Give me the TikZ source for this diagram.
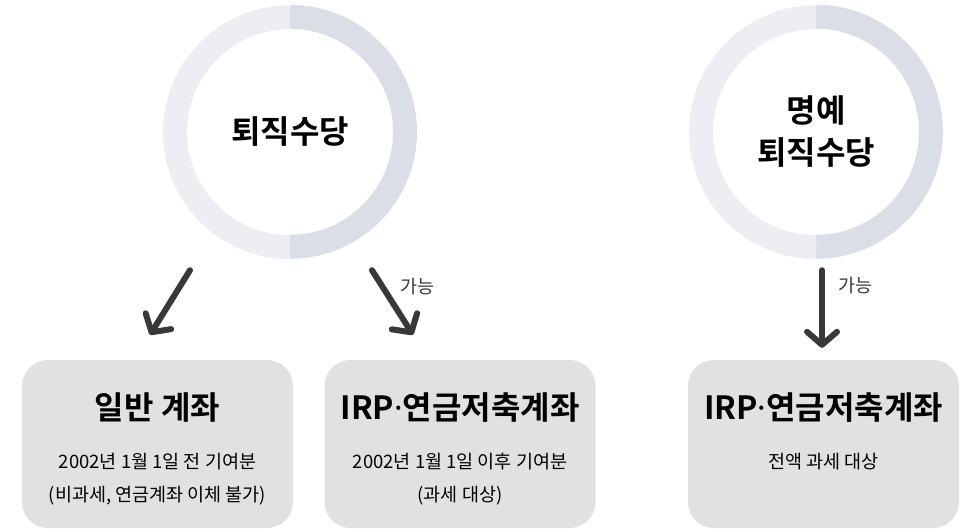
\documentclass[tikz,border=0pt]{standalone}
\usepackage{fontspec}
\setmainfont{Noto Sans CJK KR}[BoldFont={Noto Sans CJK KR Bold}]
\newfontfamily\dotfont{Noto Sans}
\usetikzlibrary{arrows.meta,positioning}
\definecolor{ringleft}{HTML}{ECEEF3}
\definecolor{ringright}{HTML}{DADEE7}
\definecolor{boxgray}{HTML}{E0E1E1}
\definecolor{arrowdark}{HTML}{3B3838}
\newcommand{\mdot}{{\dotfont\bfseries ·}}

\begin{document}
\begin{tikzpicture}[x=1pt,y=1pt,
  ring/.style={circle,minimum size=230pt,inner sep=0pt,align=center,font=\bfseries\fontsize{32}{42}\selectfont},
  account/.style={rectangle,rounded corners=26pt,fill=boxgray,minimum width=271pt,minimum height=168pt},
  title/.style={font=\bfseries\fontsize{32}{34}\selectfont,inner sep=0pt},
  note/.style={font=\fontsize{18.5}{33}\selectfont,align=center,inner sep=0pt},
  flow/.style={arrowdark,line width=6pt,line cap=round,-{Straight Barb[length=13pt,width=30pt,line cap=round,line join=round]}},
  tag/.style={font=\fontsize{18.5}{20}\selectfont,inner sep=0pt}]
\useasboundingbox (0,0) rectangle (967,-531);

% circles
\node[ring] (c1) at (290,-132) {퇴직수당};
\node[ring] (c2) at (816,-132) {명예\\퇴직수당};
\foreach \c in {c1,c2} {
  \draw[ringright,line width=24pt] (\c.north) arc (90:-90:115);
  \draw[ringleft,line width=24pt] (\c.south) arc (270:90:115);
}

% accounts
\node[account] (b1) at (157.5,-444) {};
\node[account] (b2) at (460,-444) {};
\node[account] (b3) at (823.5,-444) {};

\node[title] (t1) at ([yshift=-48pt]b1.north) {일반 계좌};
\node[note,below=30pt of t1] (n1) {2002년 1월 1일 전 기여분\\(비과세, 연금계좌 이체 불가)};
\node[title] (t2) at ([yshift=-48pt]b2.north) {IRP\mdot 연금저축계좌};
\node[note,below=30pt of t2] (n2) {2002년 1월 1일 이후 기여분\\(과세 대상)};
\node[title] (t3) at ([yshift=-48pt]b3.north) {IRP\mdot 연금저축계좌};
\node[note,below=30pt of t3] (n3) {전액 과세 대상};

% arrows
\draw[flow] ([xshift=-100pt,yshift=-23pt]c1.south) -- ([xshift=-7.5pt,yshift=25pt]b1.north);
\draw[flow] ([xshift=82pt,yshift=-23pt]c1.south) -- node[tag,pos=0.26,right=15pt] (g1) {가능} ([xshift=-47pt,yshift=25pt]b2.north);
\draw[flow] ([xshift=6pt,yshift=-23pt]c2.south) -- node[tag,pos=0.2,right=13pt] (g2) {가능} ([xshift=-1.5pt,yshift=12pt]b3.north);
\end{tikzpicture}
\end{document}
